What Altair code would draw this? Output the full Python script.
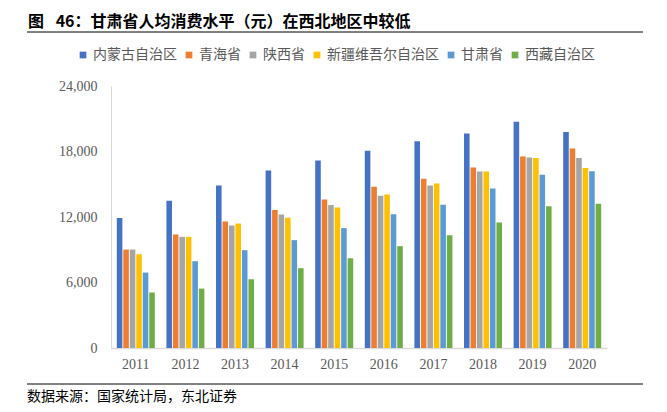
import altair as alt
import pandas as pd

years = ["2011", "2012", "2013", "2014", "2015", "2016", "2017", "2018", "2019", "2020"]
series = ["内蒙古自治区", "青海省", "陕西省", "新疆维吾尔自治区", "甘肃省", "西藏自治区"]
colors = ["#4472C4", "#ED7D31", "#A5A5A5", "#FFC000", "#5B9BD5", "#70AD47"]

nmg = [11900, 13480, 14890, 16270, 17180, 18070, 18930, 19660, 20730, 19780]
qh = [9020, 10400, 11590, 12630, 13600, 14770, 15500, 16540, 17550, 18280]
sx = [9020, 10180, 11220, 12230, 13090, 13940, 14890, 16170, 17460, 17400]
xj = [8590, 10180, 11400, 11920, 12870, 14060, 15070, 16170, 17400, 16480]
gs = [6910, 7950, 8960, 9880, 10980, 12260, 13120, 14610, 15870, 16200]
xz = [5080, 5440, 6300, 7310, 8220, 9330, 10330, 11500, 12990, 13210]

y_ticks = [0, 6000, 12000, 18000, 24000]

title_text = "图\u2002 46：甘肃省人均消费水平（元）在西北地区中较低"
source_text = "数据来源：国家统计局，东北证券"

rows = []
for name, vals in zip(series, [nmg, qh, sx, xj, gs, xz]):
    for yr, v in zip(years, vals):
        rows.append({"year": yr, "series": name, "value": v})
df = pd.DataFrame(rows)

W, H = 496, 262
CJK = "Noto Sans CJK SC"
SERIF = "Liberation Serif"
GRAY = "#595959"

bars = alt.Chart(df).mark_bar().encode(
    x=alt.X("year:N", sort=years, title=None,
            scale=alt.Scale(paddingInner=0.234, paddingOuter=0.117),
            axis=alt.Axis(labelAngle=0, ticks=False, domainColor="#d9d9d9", domainWidth=1.5,
                          labelFont=SERIF, labelFontSize=14, labelColor=GRAY, labelPadding=9)),
    xOffset=alt.XOffset("series:N", sort=series, scale=alt.Scale(paddingInner=0.14)),
    y=alt.Y("value:Q", title=None,
            scale=alt.Scale(domain=[0, 24000], nice=False),
            axis=alt.Axis(values=y_ticks, format=",.0f", grid=False, ticks=False,
                          domainColor="#d9d9d9", domainWidth=1,
                          labelFont=SERIF, labelFontSize=14, labelColor=GRAY, labelPadding=14)),
    color=alt.Color("series:N", sort=series,
                    scale=alt.Scale(domain=series, range=colors),
                    legend=alt.Legend(title=None, orient="none", direction="horizontal",
                                      legendX=-35, legendY=-38, columns=6,
                                      symbolType="square", symbolSize=45, symbolStrokeWidth=0,
                                      labelFont=CJK, labelFontSize=14, labelColor=GRAY,
                                      labelOffset=3, columnPadding=5)),
)

one = pd.DataFrame({"k": [0]})

title = alt.Chart(one).mark_text(align="left", baseline="middle", font=CJK,
                                 fontSize=16, fontWeight="bold", color="#000000").encode(
    x=alt.value(-83), y=alt.value(-64), text=alt.value(title_text))

line_top = alt.Chart(one).mark_rule(color="#000000", strokeWidth=1).encode(
    x=alt.value(-84), x2=alt.value(532), y=alt.value(-54))

line_bot = alt.Chart(one).mark_rule(color="#000000", strokeWidth=1).encode(
    x=alt.value(-84), x2=alt.value(532), y=alt.value(298))

source = alt.Chart(one).mark_text(align="left", baseline="middle", font=CJK,
                                  fontSize=14, color="#000000").encode(
    x=alt.value(-84), y=alt.value(311), text=alt.value(source_text))

chart = alt.layer(bars, title, line_top, line_bot, source).properties(
    width=W, height=H,
    padding={"left": 103, "top": 78, "right": 44, "bottom": 56},
    autosize=alt.AutoSizeParams(type="none"),
).configure_view(stroke=None)

chart.save("out.html", embed_options={"renderer": "svg", "actions": False})
